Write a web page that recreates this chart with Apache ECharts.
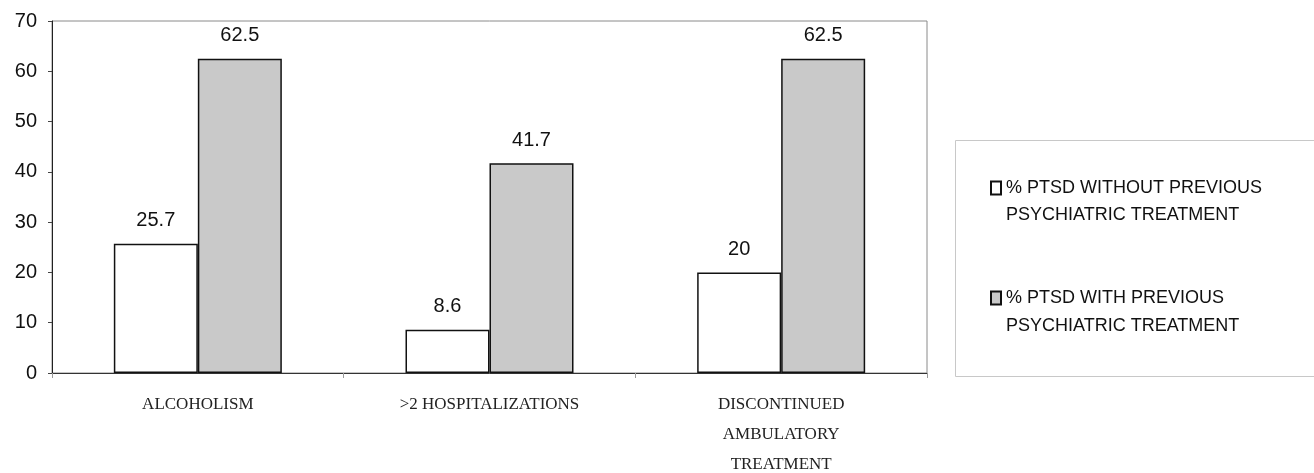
<!DOCTYPE html>
<html>
<head>
<meta charset="utf-8">
<script src="https://cdn.jsdelivr.net/npm/echarts@6/dist/echarts.min.js"></script>
<style>
  html, body { margin: 0; padding: 0; background: #fff; }
  #chart { width: 1314px; height: 473px; }
</style>
</head>
<body>
<div id="chart"></div>
<script>
// 分类与数据
const categories = ['ALCOHOLISM', '>2 HOSPITALIZATIONS', 'DISCONTINUED\nAMBULATORY\nTREATMENT']
const withoutPrevious = [25.7, 8.6, 20]
const withPrevious = [62.5, 41.7, 62.5]
const seriesNames = ['% PTSD WITHOUT PREVIOUS', '% PTSD WITH PREVIOUS']
const seriesNameLine2 = ['PSYCHIATRIC TREATMENT', 'PSYCHIATRIC TREATMENT']

const chart = echarts.init(document.getElementById('chart'))

const sansFont = 'Liberation Sans, Arial, sans-serif'

const valueLabel = {
  show: true,
  position: 'top',
  distance: 13,
  color: '#111',
  fontFamily: sansFont,
  fontSize: 20
}

const option = {
  backgroundColor: '#fff',
  animation: false,
  grid: {
    left: 52,
    right: 387,
    top: 21,
    bottom: 100,
    outerBoundsMode: 'none',
    containLabel: false,
    show: true,
    borderColor: '#8a8a8a',
    borderWidth: 1
  },
  // 图例外框，以及图例第二行文字
  graphic: [
    {
      type: 'rect',
      shape: { x: 955.5, y: 140.5, width: 380, height: 236 },
      style: { fill: '#fff', stroke: '#c8c8c8', lineWidth: 1 },
      z: 0
    },
    {
      type: 'text',
      left: 1006,
      top: 206,
      style: { text: seriesNameLine2[0], fill: '#111', font: '18px ' + sansFont },
      z: 10
    },
    {
      type: 'text',
      left: 1006,
      top: 317,
      style: { text: seriesNameLine2[1], fill: '#111', font: '18px ' + sansFont },
      z: 10
    }
  ],
  legend: {
    orient: 'vertical',
    left: 985,
    top: 173,
    itemGap: 90,
    itemWidth: 10,
    itemHeight: 13,
    icon: 'rect',
    textStyle: {
      color: '#111',
      fontFamily: sansFont,
      fontSize: 18,
      lineHeight: 20
    },
    data: seriesNames
  },
  xAxis: {
    type: 'category',
    data: categories,
    axisLine: { lineStyle: { color: '#333', width: 1 } },
    axisTick: { show: true, length: 5, lineStyle: { color: '#999' } },
    axisLabel: {
      margin: 17,
      color: '#222',
      fontFamily: 'Liberation Serif, DejaVu Serif, serif',
      fontSize: 17,
      lineHeight: 30
    }
  },
  yAxis: {
    type: 'value',
    min: 0,
    max: 70,
    interval: 10,
    splitLine: { show: false },
    axisLine: { show: true, lineStyle: { color: '#222', width: 1 } },
    axisTick: { show: true, length: 4, lineStyle: { color: '#444' } },
    axisLabel: {
      margin: 15,
      color: '#111',
      fontFamily: sansFont,
      fontSize: 20
    }
  },
  series: [
    {
      name: seriesNames[0],
      type: 'bar',
      data: withoutPrevious,
      barWidth: 84,
      barGap: '0%',
      itemStyle: { color: '#ffffff', borderColor: '#111', borderWidth: 1.5 },
      label: valueLabel
    },
    {
      name: seriesNames[1],
      type: 'bar',
      data: withPrevious,
      barWidth: 84,
      itemStyle: { color: '#c9c9c9', borderColor: '#111', borderWidth: 1.5 },
      label: valueLabel
    }
  ]
}

chart.setOption(option)
</script>
</body>
</html>
